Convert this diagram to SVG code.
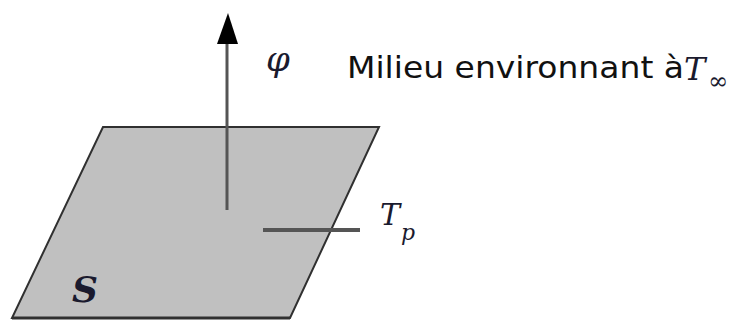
<svg xmlns="http://www.w3.org/2000/svg" width="733" height="320" viewBox="0 0 733 320">
<style>
.math{font-family:"DejaVu Serif","Liberation Serif",serif;font-style:italic;fill:#1a1a2e}
.txt{font-family:"DejaVu Sans","Liberation Sans",sans-serif;fill:#111}
</style>
<rect width="733" height="320" fill="#fff"/>
<g id="surface">
<polygon points="103,127 379,127 290,318 12,318" fill="#c0c0c0" stroke="#303030" stroke-width="2" stroke-linejoin="miter"/>
<line x1="12" y1="318" x2="290" y2="318" stroke="#303030" stroke-width="3"/>
<text class="math" x="72" y="302" font-size="36" font-weight="bold">S</text>
</g>
<g id="connectors">
<line x1="227" y1="210" x2="227" y2="42" stroke="#555" stroke-width="3"/>
<polygon points="228,13 238,44 217,44" fill="#000"/>
<line x1="263" y1="230" x2="360" y2="230" stroke="#555" stroke-width="4"/>
</g>
<g id="labels">
<text class="math" x="266" y="71" font-size="34">φ</text>
<text class="txt" x="347" y="78" font-size="31" textLength="337" lengthAdjust="spacingAndGlyphs">Milieu environnant à</text>
<text class="math" x="684" y="80" font-size="32">T</text>
<text class="math" x="708" y="89" font-size="24">∞</text>
<text class="math" x="380" y="225" font-size="30">T</text>
<text class="math" x="401" y="240" font-size="22">p</text>
</g>
</svg>
